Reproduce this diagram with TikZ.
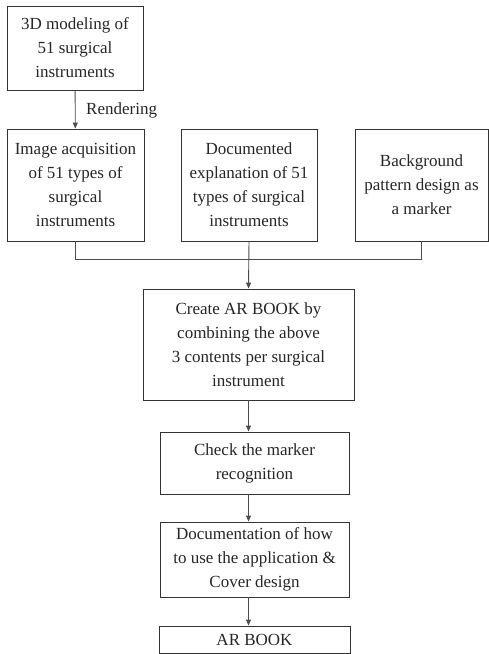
\documentclass[tikz,border=0pt]{standalone}
\usepackage{fontspec}
\setmainfont{Liberation Serif}
\usetikzlibrary{arrows.meta}
\begin{document}
\begin{tikzpicture}[x=1pt,y=-1pt,
  box/.style={draw=black!80,line width=0.9pt,align=center,inner sep=0pt,
    font=\fontsize{17}{24}\selectfont,text=black!85},
  arr/.style={draw=black!70,line width=0.9pt,-{Triangle[length=6pt,width=5pt]}},
  ln/.style={draw=black!70,line width=0.9pt}]
\useasboundingbox (0,0) rectangle (489,654);
\node[box,minimum width=136pt,minimum height=84pt] (b1) at (75,48) {3D modeling of\\51 surgical\\instruments};
\node[box,minimum width=137pt,minimum height=112pt] (b2) at (75.5,185) {Image acquisition\\of 51 types of\\surgical\\instruments};
\node[box,minimum width=136pt,minimum height=112pt] (b3) at (249,185) {Documented\\explanation of 51\\types of surgical\\instruments};
\node[box,minimum width=133pt,minimum height=112pt] (b4) at (421.5,185) {Background\\pattern design as\\a marker};
\node[box,minimum width=211pt,minimum height=111pt] (b5) at (248.5,344.5) {Create AR BOOK by\\combining the above\\3 contents per surgical\\instrument};
\node[box,minimum width=189pt,minimum height=62pt] (b6) at (254.5,463) {Check the marker\\recognition};
\node[box,minimum width=189pt,minimum height=75pt] (b7) at (254.5,559.5) {Documentation of how\\to use the application \&\\Cover design};
\node[box,minimum width=191pt,minimum height=27pt] (b8) at (254.5,639.5) {AR BOOK};
\node[anchor=west,inner sep=0pt,font=\fontsize{17}{24}\selectfont,text=black!85] (rl) at (86,110) {Rendering};
\coordinate (j) at (249,259);
\draw[arr] (b1) -- (b2);
\draw[ln] (b2.south) |- (j);
\draw[ln] (b4.south) |- (j);
\draw[arr] (b3.south) -- (b5.north);
\draw[arr] (b5.south) -- (b5.south |- b6.north);
\draw[arr] (b5.south |- b6.south) -- (b5.south |- b7.north);
\draw[arr] (b5.south |- b7.south) -- (b5.south |- b8.north);
\end{tikzpicture}
\end{document}
